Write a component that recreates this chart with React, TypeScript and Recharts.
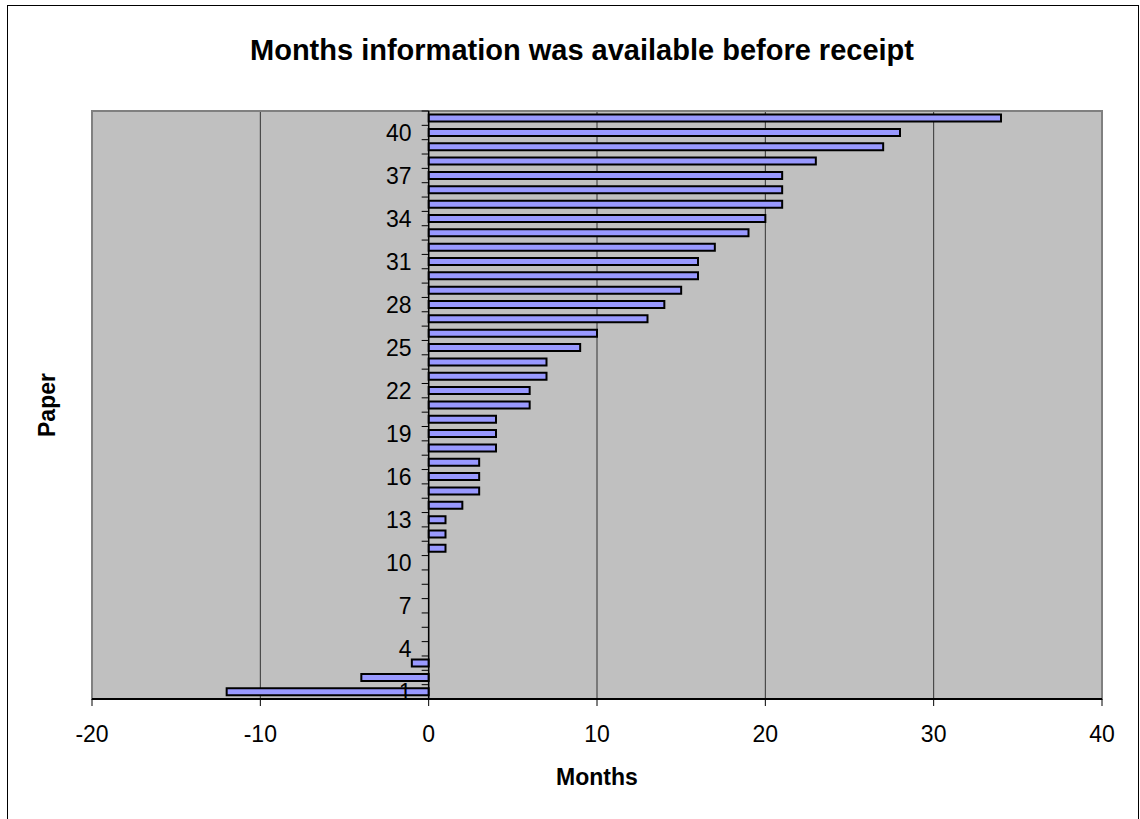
import { BarChart, Bar, XAxis, YAxis, CartesianGrid, ReferenceLine, ReferenceArea } from 'recharts';

// paper numbers, bottom (1) to top (41)
const papers = [
  1, 2, 3, 4, 5, 6, 7, 8, 9, 10,
  11, 12, 13, 14, 15, 16, 17, 18, 19, 20,
  21, 22, 23, 24, 25, 26, 27, 28, 29, 30,
  31, 32, 33, 34, 35, 36, 37, 38, 39, 40, 41,
];

// months information was available before receipt
const months = [
  -12, -4, -1, 0, 0, 0, 0, 0, 0, 0,
  1, 1, 1, 2, 3, 3, 3, 4, 4, 4,
  6, 6, 7, 7, 9, 10, 13, 14, 15, 16,
  16, 17, 19, 20, 21, 21, 21, 23, 27, 28, 34,
];

const monthTicks = [-20, -10, 0, 10, 20, 30, 40];
const paperLabelStep = 3;

const data = papers.map((p, i) => ({ paper: p, months: months[i] }));

const FONT = '"Liberation Sans", Arial, sans-serif';

// category axis drawn along the zero line (Excel style crossing)
// eslint-disable-next-line @typescript-eslint/no-explicit-any
function PaperAxis({ viewBox }: any) {
  if (!viewBox) return null;
  const { x, y, height } = viewBox;
  const band = height / papers.length;
  const bottom = y + height;
  return (
    <g>
      {papers.map((p, i) => (
        <line key={`t${p}`} x1={x - 7} x2={x} y1={bottom - i * band} y2={bottom - i * band} stroke="#000" strokeWidth={1} />
      ))}
      <line x1={x - 7} x2={x} y1={y} y2={y} stroke="#000" strokeWidth={1} />
      {papers.map((p, i) =>
        i % paperLabelStep === 0 ? (
          <text
            key={`l${p}`}
            x={x - 17}
            y={bottom - (i + 0.5) * band}
            dy={8}
            textAnchor="end"
            fontSize={23}
            fontFamily={FONT}
            fill="#000"
          >
            {p}
          </text>
        ) : null
      )}
    </g>
  );
}

// eslint-disable-next-line @typescript-eslint/no-explicit-any
function MonthsLabel({ viewBox }: any) {
  if (!viewBox) return null;
  return (
    <text
      x={viewBox.x + viewBox.width / 2}
      y={viewBox.y + 86}
      textAnchor="middle"
      fontSize={23}
      fontWeight="bold"
      fontFamily={FONT}
      fill="#000"
    >
      Months
    </text>
  );
}

export default function App() {
  return (
    <div style={{ position: 'absolute', left: 0, top: 0, width: 1140, height: 819, overflow: 'hidden', background: '#fff', fontFamily: FONT }}>
      <div style={{ position: 'absolute', left: 7, top: 5, width: 1130, height: 830, border: '1.5px solid #000' }} />
      <div
        style={{
          position: 'absolute', left: 12, top: 36, width: 1140, textAlign: 'center',
          fontSize: 29, lineHeight: '29px', fontWeight: 'bold', whiteSpace: 'nowrap',
        }}
      >
        Months information was available before receipt
      </div>
      <div
        style={{
          position: 'absolute', left: 47, top: 405, fontSize: 23, lineHeight: '23px', fontWeight: 'bold',
          whiteSpace: 'nowrap', transform: 'translate(-50%, -50%) rotate(-90deg)',
        }}
      >
        Paper
      </div>
      <div style={{ position: 'absolute', left: 0, top: 0 }}>
        <BarChart
          width={1140}
          height={819}
          data={data}
          layout="vertical"
          margin={{ top: 111, right: 38, left: 92, bottom: 30 }}
          barCategoryGap="25%"
        >
          <CartesianGrid horizontal={false} vertical fill="#c0c0c0" stroke="#333" strokeWidth={1} />
          <ReferenceArea x1={-20} x2={40} fill="none" stroke="#808080" strokeWidth={2} ifOverflow="extendDomain" />
          <XAxis
            type="number"
            dataKey="months"
            domain={[-20, 40]}
            ticks={monthTicks}
            interval={0}
            height={90}
            stroke="#000"
            tickSize={7}
            tickMargin={20}
            tick={{ fontSize: 23, fill: '#000', fontFamily: FONT }}
            axisLine={{ stroke: '#000', strokeWidth: 2 }}
            tickLine={{ stroke: '#000' }}
            label={<MonthsLabel />}
          />
          <YAxis type="category" dataKey="paper" reversed hide />
          <Bar dataKey="months" fill="#9999ff" stroke="#000" strokeWidth={2} isAnimationActive={false} />
          <ReferenceLine x={0} stroke="#000" strokeWidth={1.5} label={<PaperAxis />} />
        </BarChart>
      </div>
    </div>
  );
}
